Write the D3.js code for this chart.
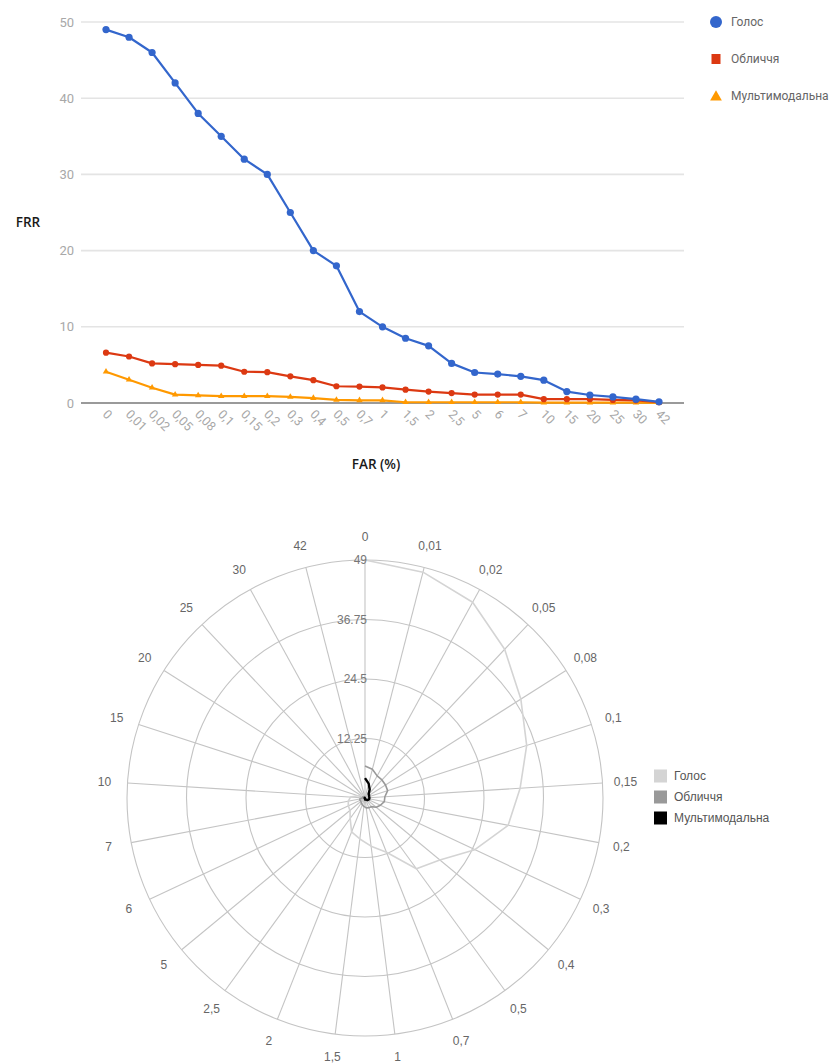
<!DOCTYPE html>
<html>
<head>
<meta charset="utf-8">
<script src="https://cdn.jsdelivr.net/npm/d3@7/dist/d3.min.js"></script>
<style>
  html, body { margin: 0; padding: 0; background: #fff; }
  svg { display: block; }
</style>
</head>
<body>
<svg id="chart" width="832" height="1063"></svg>
<script>
// FAR thresholds (%) used as categories
const farLabels = ["0","0,01","0,02","0,05","0,08","0,1","0,15","0,2","0,3","0,4","0,5","0,7","1","1,5","2","2,5","5","6","7","10","15","20","25","30","42"];

// FRR values per modality
const voiceFRR = [49, 48, 46, 42, 38, 35, 32, 30, 25, 20, 18, 12, 10, 8.5, 7.5, 5.2, 4, 3.8, 3.5, 3, 1.5, 1.05, 0.8, 0.5, 0.15];
const faceFRR  = [6.6, 6.1, 5.2, 5.1, 5.0, 4.9, 4.1, 4.05, 3.5, 3.0, 2.2, 2.15, 2.05, 1.75, 1.5, 1.3, 1.1, 1.1, 1.1, 0.5, 0.5, 0.5, 0.4, 0.35, 0.1];
const multiFRR = [4.1, 3.05, 2.0, 1.1, 1.0, 0.9, 0.9, 0.9, 0.8, 0.65, 0.4, 0.35, 0.35, 0.1, 0.1, 0.1, 0.1, 0.1, 0.1, 0.05, 0.05, 0.05, 0.05, 0.05, 0];

const seriesNames = ["Голос", "Обличчя", "Мультимодальна"];
const yTicks = [0, 10, 20, 30, 40, 50];
const radarRings = [12.25, 24.5, 36.75, 49];
const radarRingLabels = ["12.25", "24.5", "36.75", "49"];

const seriesData = [voiceFRR, faceFRR, multiFRR];
const lineColors = ["#3366cc", "#dc3912", "#ff9900"];
const radarColors = ["#d4d4d4", "#999999", "#000000"];

const svg = d3.select("#chart");

// ---------- Line chart ----------
const plotLeft = 81, plotRight = 684;
const x = d3.scalePoint().domain(farLabels).range([106, 659]);
const y = d3.scaleLinear().domain([0, 50]).range([403, 22]);

const lineG = svg.append("g");

lineG.append("g").selectAll("line")
  .data(yTicks.filter(d => d !== 0))
  .join("line")
  .attr("x1", plotLeft).attr("x2", plotRight)
  .attr("y1", d => y(d)).attr("y2", d => y(d))
  .attr("stroke", "#e4e4e4").attr("stroke-width", 1.6);

lineG.append("g").selectAll("text")
  .data(yTicks)
  .join("text")
  .attr("x", 74).attr("y", d => y(d))
  .attr("dy", "0.36em")
  .attr("text-anchor", "end")
  .attr("font-family", "Roboto, 'Liberation Sans', sans-serif")
  .attr("font-size", 13)
  .attr("fill", "#a8a8a8")
  .text(d => d);

lineG.append("line")
  .attr("x1", plotLeft).attr("x2", plotRight)
  .attr("y1", y(0)).attr("y2", y(0))
  .attr("stroke", "#9a9a9a").attr("stroke-width", 2);

lineG.append("g").selectAll("text")
  .data(farLabels)
  .join("text")
  .attr("transform", d => `translate(${x(d) - 4},${y(0) + 12}) rotate(45)`)
  .attr("font-family", "Roboto, 'Liberation Sans', sans-serif")
  .attr("font-size", 12.5)
  .attr("fill", "#a8a8a8")
  .text(d => d);

const linePath = d3.line().x((d, i) => x(farLabels[i])).y(d => y(d));

// draw from back to front: multimodal, face, voice
[2, 1, 0].forEach(s => {
  const g = lineG.append("g");
  g.append("path")
    .datum(seriesData[s])
    .attr("d", linePath)
    .attr("fill", "none")
    .attr("stroke", lineColors[s])
    .attr("stroke-width", 2.2)
    .attr("stroke-linejoin", "round");
  if (s === 2) {
    g.selectAll("path.pt")
      .data(seriesData[s])
      .join("path")
      .attr("class", "pt")
      .attr("transform", (d, i) => `translate(${x(farLabels[i])},${y(d)})`)
      .attr("d", d3.symbol(d3.symbolTriangle, 18)())
      .attr("fill", lineColors[s]);
  } else {
    g.selectAll("circle")
      .data(seriesData[s])
      .join("circle")
      .attr("cx", (d, i) => x(farLabels[i]))
      .attr("cy", d => y(d))
      .attr("r", s === 0 ? 3.6 : 3.1)
      .attr("fill", lineColors[s]);
  }
});

// axis titles
lineG.append("text")
  .attr("x", 28).attr("y", 222).attr("dy", "0.36em")
  .attr("text-anchor", "middle")
  .attr("font-family", "'Open Sans', sans-serif")
  .attr("font-size", 13.5).attr("font-weight", 600)
  .attr("fill", "#1a1a1a")
  .text("FRR");

lineG.append("text")
  .attr("x", 376).attr("y", 464).attr("dy", "0.36em")
  .attr("text-anchor", "middle")
  .attr("font-family", "'Open Sans', sans-serif")
  .attr("font-size", 13.5).attr("font-weight", 600)
  .attr("fill", "#1a1a1a")
  .text("FAR (%)");

// legend
const legLine = lineG.append("g");
seriesNames.forEach((name, i) => {
  const ly = 22 + i * 37;
  const gy = legLine.append("g").attr("transform", `translate(716,${ly})`);
  if (i === 0) {
    gy.append("circle").attr("r", 6).attr("fill", lineColors[0]);
  } else if (i === 1) {
    gy.append("rect").attr("x", -4.5).attr("y", -5).attr("width", 9).attr("height", 10).attr("fill", lineColors[1]);
  } else {
    gy.append("path").attr("d", d3.symbol(d3.symbolTriangle, 60)()).attr("transform", "translate(0,1)").attr("fill", lineColors[2]);
  }
  gy.append("text")
    .attr("x", 15).attr("dy", "0.36em")
    .attr("font-family", "Roboto, 'Liberation Sans', sans-serif")
    .attr("font-size", 12)
    .attr("fill", "#666")
    .text(name);
});

// ---------- Radar chart ----------
const cx = 365, cy = 798, R = 238;
const angle = d3.scaleBand().domain(farLabels).range([0, 2 * Math.PI]).paddingInner(0).paddingOuter(0);
const r = d3.scaleLinear().domain([0, 49]).range([0, R]);

const radar = svg.append("g").attr("transform", `translate(${cx},${cy})`);

radar.append("g").selectAll("circle")
  .data(radarRings)
  .join("circle")
  .attr("r", d => r(d))
  .attr("fill", "none")
  .attr("stroke", "#c4c4c4")
  .attr("stroke-width", 1.1);

radar.append("g").selectAll("line")
  .data(farLabels)
  .join("line")
  .attr("x1", 0).attr("y1", 0)
  .attr("x2", d => R * Math.sin(angle(d)))
  .attr("y2", d => -R * Math.cos(angle(d)))
  .attr("stroke", "#c4c4c4")
  .attr("stroke-width", 1.1);

radar.append("g").selectAll("text")
  .data(farLabels)
  .join("text")
  .attr("x", d => (R + 23) * Math.sin(angle(d)))
  .attr("y", d => -(R + 23) * Math.cos(angle(d)))
  .attr("dy", "0.36em")
  .attr("text-anchor", "middle")
  .attr("font-family", "'Liberation Sans', Arial, sans-serif")
  .attr("font-size", 12)
  .attr("fill", "#666")
  .text(d => d);

const radialLine = d3.lineRadial()
  .angle((d, i) => angle(farLabels[i]))
  .radius(d => r(d));

seriesData.forEach((vals, s) => {
  radar.append("path")
    .datum(vals)
    .attr("d", radialLine)
    .attr("fill", "none")
    .attr("stroke", radarColors[s])
    .attr("stroke-width", s === 2 ? 2.4 : 1.6)
    .attr("stroke-linejoin", "round");
});

radar.append("g").selectAll("text")
  .data(radarRings)
  .join("text")
  .attr("x", 2)
  .attr("y", d => -r(d))
  .attr("dy", "0.36em")
  .attr("text-anchor", "end")
  .attr("font-family", "'Liberation Sans', Arial, sans-serif")
  .attr("font-size", 12)
  .attr("fill", "#777")
  .text((d, i) => radarRingLabels[i]);

// radar legend
const legRadar = svg.append("g").attr("transform", "translate(654,776)");
seriesNames.forEach((name, i) => {
  const gy = legRadar.append("g").attr("transform", `translate(0,${i * 21})`);
  gy.append("rect").attr("x", 0).attr("y", -6.5).attr("width", 13).attr("height", 13).attr("fill", radarColors[i]);
  gy.append("text")
    .attr("x", 20).attr("dy", "0.36em")
    .attr("font-family", "'Liberation Sans', Arial, sans-serif")
    .attr("font-size", 12)
    .attr("fill", "#555")
    .text(name);
});
</script>
</body>
</html>
